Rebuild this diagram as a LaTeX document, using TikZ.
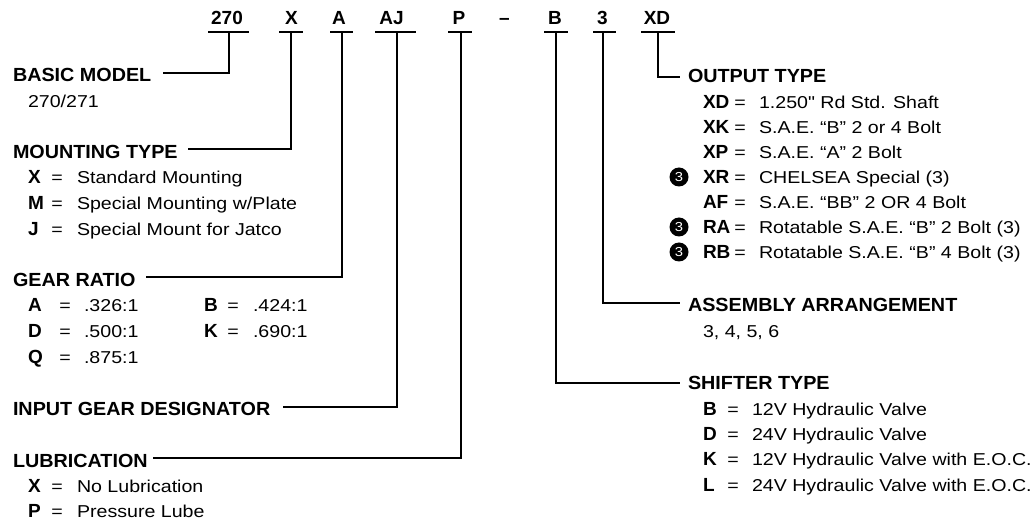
\documentclass[tikz,border=0pt]{standalone}
\usepackage{fontspec}
\setmainfont{Liberation Sans}[Ligatures=TeXOff]
\newfontfamily\regf{Liberation Sans}[Ligatures=TeXOff, FakeStretch=1.14]
\newfontfamily\hdf{Liberation Sans}[Ligatures=TeXOff, FakeStretch=1.04]
\usetikzlibrary{calc}
\newcommand{\fsr}{\fontsize{17.2}{20}\selectfont\regf}
\newcommand{\fsb}{\fontsize{19}{22}\selectfont\bfseries}
\newcommand{\fsh}{\fontsize{19}{22}\selectfont\hdf\bfseries}
\begin{document}
\begin{tikzpicture}[x=1pt,y=-1pt, line width=2pt,
  every node/.style={inner sep=0pt, font=\fsr},
  txt/.style={anchor=base west, font=\fsr},
  hd/.style={anchor=base west, font=\fsh},
  code/.style={anchor=base, font=\fsb},
  key/.style={anchor=base west, font=\fsb},
  eq/.style={anchor=base, font=\fsr},
  badge/.style={circle, fill=black, minimum size=19pt, inner sep=0pt, text=white, font=\fontsize{13}{13}\selectfont\regf}]
\useasboundingbox (0,0) rectangle (1034,521);

% top code
\node[code] (c270) at (227,25) {270};
\node[code] (cX) at (291.5,25) {X};
\node[code] (cA) at (339,25) {A};
\node[code] (cAJ) at (391.5,25) {AJ};
\node[code] (cP) at (459,25) {P};
\node[code] (cdash) at (504.5,25) {–};
\node[code] (cB) at (555,25) {B};
\node[code] (c3) at (602.5,25) {3};
\node[code] (cXD) at (657,25) {XD};

% underlines
\draw ($(c270.base)+(-19,7)$) -- ($(c270.base)+(22,7)$);
\draw ($(cX.base)+(-12.5,7)$) -- ($(cX.base)+(11.5,7)$);
\draw ($(cA.base)+(-9,7)$) -- ($(cA.base)+(14,7)$);
\draw ($(cAJ.base)+(-16.5,7)$) -- ($(cAJ.base)+(24.5,7)$);
\draw ($(cP.base)+(-11,7)$) -- ($(cP.base)+(13,7)$);
\draw ($(cB.base)+(-11,7)$) -- ($(cB.base)+(13,7)$);
\draw ($(c3.base)+(-9.5,7)$) -- ($(c3.base)+(13.5,7)$);
\draw ($(cXD.base)+(-16,7)$) -- ($(cXD.base)+(18,7)$);

% left headings
\node[hd] (bm) at (12,82) {BASIC MODEL};
\node[txt] at (27,108) {270/271};

\node[hd] (mt) at (12,159) {MOUNTING TYPE};
\node[key] at (27,184) {X};  \node[eq] at (57,184) {=}; \node[txt] at (76,184) {Standard Mounting};
\node[key] at (27,210) {M};  \node[eq] at (57,210) {=}; \node[txt] at (76,210) {Special Mounting w/Plate};
\node[key] at (27,236) {J};  \node[eq] at (57,236) {=}; \node[txt] at (76,236) {Special Mount for Jatco};

\node[hd] (gr) at (12,287) {GEAR RATIO};
\node[key] at (27,312) {A}; \node[eq] at (65,312) {=}; \node[txt] at (83,312) {.326:1};
\node[key] at (203,312) {B}; \node[eq] at (233,312) {=}; \node[txt] at (252,312) {.424:1};
\node[key] at (27,338) {D}; \node[eq] at (65,338) {=}; \node[txt] at (83,338) {.500:1};
\node[key] at (203,338) {K}; \node[eq] at (233,338) {=}; \node[txt] at (252,338) {.690:1};
\node[key] at (27,364) {Q}; \node[eq] at (65,364) {=}; \node[txt] at (83,364) {.875:1};

\node[hd] (ig) at (12,415) {INPUT GEAR DESIGNATOR};

\node[hd] (lu) at (12,467) {LUBRICATION};
\node[key] at (27,492) {X}; \node[eq] at (57,492) {=}; \node[txt] at (76,492) {No Lubrication};
\node[key] at (27,517) {P}; \node[eq] at (57,517) {=}; \node[txt] at (76,517) {Pressure Lube};

% right headings
\node[hd] (ot) at (687,83) {OUTPUT TYPE};
\node[key] at (702,108.5) {XD}; \node[eq] at (740,108.5) {=}; \node[txt] at (758,108.5) {1.250" Rd Std. Shaft};
\node[key] at (702,133.5) {XK}; \node[eq] at (740,133.5) {=}; \node[txt] at (758,133.5) {S.A.E. “B” 2 or 4 Bolt};
\node[key] at (702,158.5) {XP}; \node[eq] at (740,158.5) {=}; \node[txt] at (758,158.5) {S.A.E. “A” 2 Bolt};
\node[badge] (b1) at (679,177) {3};
\node[key] at (702,183.5) {XR}; \node[eq] at (740,183.5) {=}; \node[txt] at (758,183.5) {CHELSEA Special (3)};
\node[key] at (702,208.5) {AF}; \node[eq] at (740,208.5) {=}; \node[txt] at (758,208.5) {S.A.E. “BB” 2 OR 4 Bolt};
\node[badge] (b2) at (679,227) {3};
\node[key] at (702,233.5) {RA}; \node[eq] at (740,233.5) {=}; \node[txt] at (758,233.5) {Rotatable S.A.E. “B” 2 Bolt (3)};
\node[badge] (b3) at (679,252) {3};
\node[key] at (702,258.5) {RB}; \node[eq] at (740,258.5) {=}; \node[txt] at (758,258.5) {Rotatable S.A.E. “B” 4 Bolt (3)};

\node[hd] (aa) at (687,312) {ASSEMBLY ARRANGEMENT};
\node[txt] at (702,338) {3, 4, 5, 6};

\node[hd] (st) at (687,390) {SHIFTER TYPE};
\node[key] at (702,415) {B}; \node[eq] at (733,415) {=}; \node[txt] at (751,415) {12V Hydraulic Valve};
\node[key] at (702,440) {D}; \node[eq] at (733,440) {=}; \node[txt] at (751,440) {24V Hydraulic Valve};
\node[key] at (702,465) {K}; \node[eq] at (733,465) {=}; \node[txt] at (751,465) {12V Hydraulic Valve with E.O.C.};
\node[key] at (702,491) {L}; \node[eq] at (733,491) {=}; \node[txt] at (751,491) {24V Hydraulic Valve with E.O.C.};

% connector ends
\coordinate (ebm) at (163,73);
\coordinate (emt) at (188,149);
\coordinate (egr) at (146,277);
\coordinate (eig) at (283,407);
\coordinate (elu) at (153,458);
\coordinate (eot) at (680,77);
\coordinate (eaa) at (680,303);
\coordinate (est) at (680,383);

% connectors
\draw ($(c270.base)+(2,7)$) |- (ebm);
\draw ($(cX.base)+(-0.5,7)$) |- (emt);
\draw ($(cA.base)+(3,7)$) |- (egr);
\draw ($(cAJ.base)+(5.5,7)$) |- (eig);
\draw ($(cP.base)+(2,7)$) |- (elu);
\draw ($(cXD.base)+(1,7)$) |- (eot);
\draw ($(c3.base)+(0,7)$) |- (eaa);
\draw ($(cB.base)+(1,7)$) |- (est);
\end{tikzpicture}
\end{document}
